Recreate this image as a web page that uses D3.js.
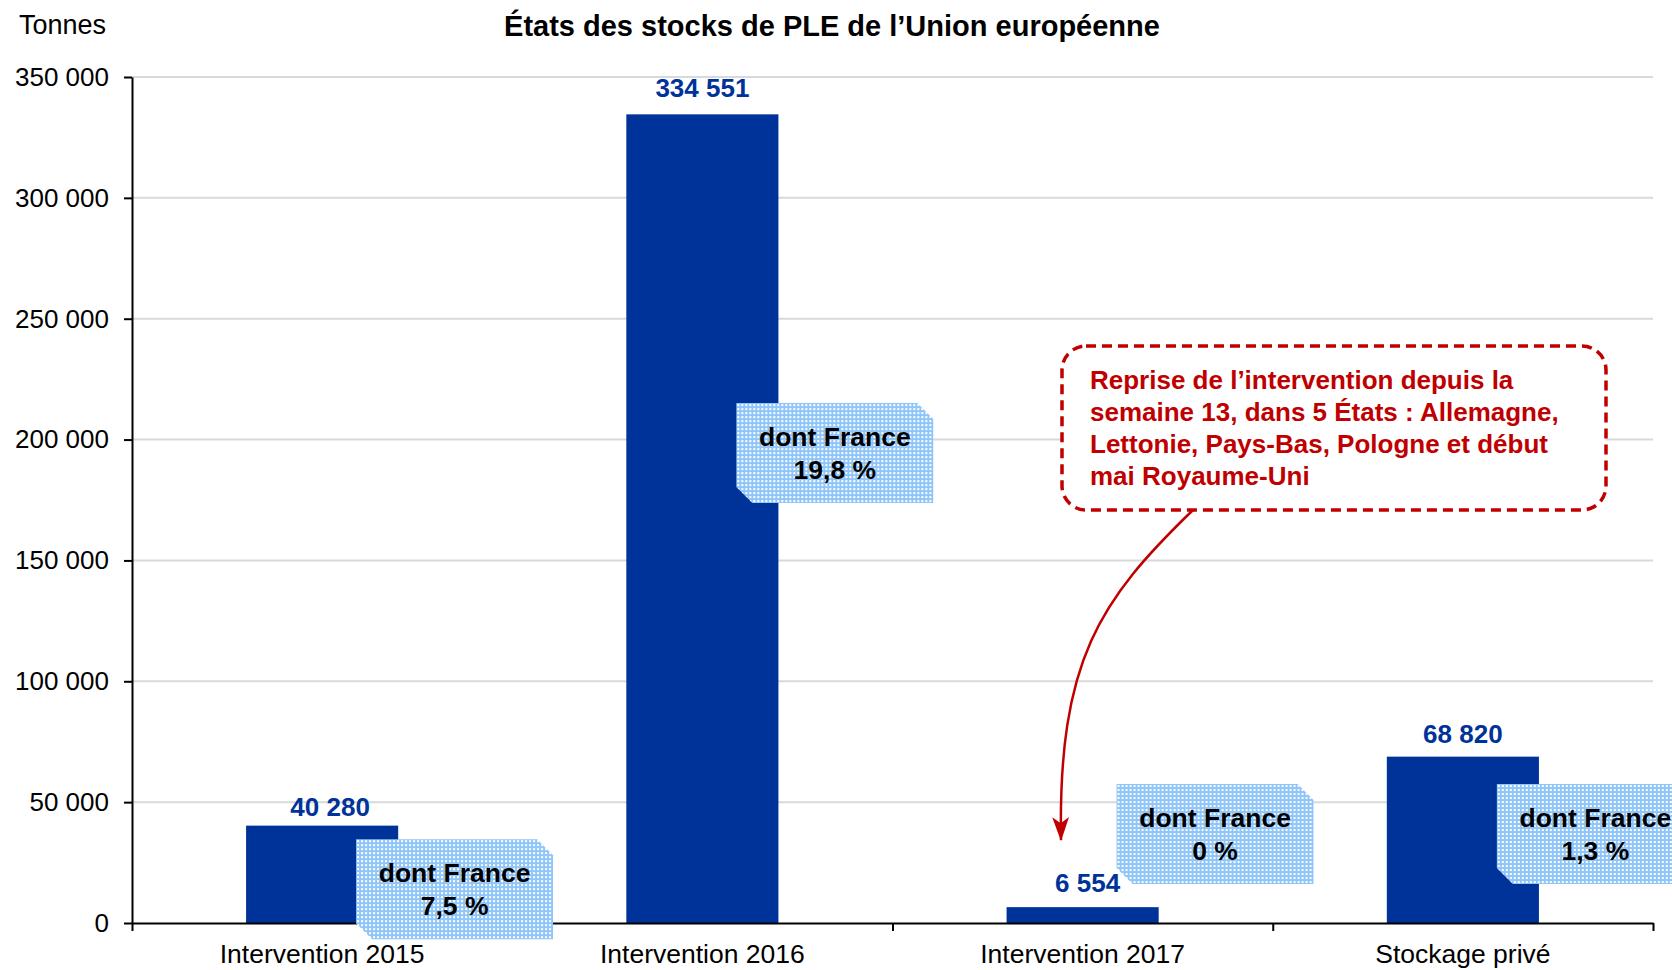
<!DOCTYPE html>
<html>
<head>
<meta charset="utf-8">
<script src="https://cdn.jsdelivr.net/npm/d3@7"></script>
<style>
    body { margin: 0; background: #fff; }
    svg { display: block; font-family: "Liberation Sans", Arial, sans-serif; }
</style>
</head>
<body>
<svg width="1672" height="970"></svg>
<script>
    // data
    var categories = ["Intervention 2015", "Intervention 2016", "Intervention 2017", "Stockage privé"];
    var stocks = [40280, 334551, 6554, 68820];
    var francePct = [7.5, 19.8, 0, 1.3];
    var yTicks = [0, 50000, 100000, 150000, 200000, 250000, 300000, 350000];
    var calloutLines = [
        "Reprise de l\u2019intervention depuis la",
        "semaine 13, dans 5 États : Allemagne,",
        "Lettonie, Pays-Bas, Pologne et début",
        "mai Royaume-Uni"
    ];
    // where the "dont France" boxes sit (in tonnes, box centre)
    var boxLevel = [14000, 194400, 36800, 36800];
    // hand placed value labels in the original: [dx, gap above bar]
    var labelNudge = [[8, 10], [0, 17], [5, 15], [0, 14]];

    var svg = d3.select("svg"),
        margin = { top: 77, right: 19, bottom: 47, left: 132 },
        width = +svg.attr("width") - margin.left - margin.right,
        height = +svg.attr("height") - margin.top - margin.bottom,
        g = svg.append("g").attr("transform", "translate(" + margin.left + "," + margin.top + ")");

    var blue = "#003399", red = "#C00000";

    var loc = d3.formatLocale({ decimal: ",", thousands: " ", grouping: [3], currency: ["", ""] });
    var fmt = loc.format(",d");
    var fmtPct = loc.format(",");

    var xCat = d3.scaleBand().domain(categories).range([0, width]);
    var xBar = d3.scaleBand().domain(categories).range([0, width]).paddingInner(0.6).paddingOuter(0.3);
    var xEdge = d3.scaleLinear().domain([0, categories.length]).range([0, width]);
    var y = d3.scaleLinear().domain([0, 350000]).range([height, 0]);

    var defs = svg.append("defs");
    var pat = defs.append("pattern").attr("id", "dots")
        .attr("width", 4).attr("height", 4).attr("patternUnits", "userSpaceOnUse");
    pat.append("rect").attr("width", 4).attr("height", 4).attr("fill", "#8fc5f8");
    pat.append("rect").attr("x", 1).attr("y", 1).attr("width", 2).attr("height", 2).attr("fill", "#ffffff");

    defs.append("marker").attr("id", "head")
        .attr("viewBox", "0 0 20 20").attr("refX", 19).attr("refY", 10)
        .attr("markerWidth", 24).attr("markerHeight", 24).attr("markerUnits", "userSpaceOnUse")
        .attr("orient", "auto")
        .append("path").attr("d", "M0,3 L20,10 L0,17 L5,10 Z").attr("fill", red);

    // gridlines
    g.append("g").selectAll("line")
        .data(yTicks.filter(function (d) { return d > 0; }))
        .enter().append("line")
        .attr("x1", 0).attr("x2", width)
        .attr("y1", function (d) { return y(d); })
        .attr("y2", function (d) { return y(d); })
        .attr("stroke", "#d9d9d9").attr("stroke-width", 2);

    // bars
    g.append("g").selectAll("rect")
        .data(stocks)
        .enter().append("rect")
        .attr("x", function (d, i) { return xBar(categories[i]); })
        .attr("y", function (d) { return y(d); })
        .attr("width", xBar.bandwidth())
        .attr("height", function (d) { return height - y(d); })
        .attr("fill", blue);

    // value labels
    g.append("g").selectAll("text")
        .data(stocks)
        .enter().append("text")
        .attr("x", function (d, i) { return xBar(categories[i]) + xBar.bandwidth() / 2 + labelNudge[i][0]; })
        .attr("y", function (d, i) { return y(d) - labelNudge[i][1]; })
        .attr("text-anchor", "middle")
        .attr("font-size", 26).attr("font-weight", "bold")
        .attr("fill", blue)
        .text(function (d) { return fmt(d); });

    // y axis
    var yAxis = g.append("g")
        .call(d3.axisLeft(y).tickValues(yTicks).tickSize(8).tickSizeOuter(0).tickPadding(15).tickFormat(fmt));
    yAxis.selectAll("text").attr("font-size", 26).attr("fill", "#000")
        .attr("font-family", "Liberation Sans, Arial, sans-serif");
    yAxis.selectAll("line, path").attr("stroke", "#000").attr("stroke-width", 2);

    // x axis: boundary ticks + centred labels
    var xLine = g.append("g").attr("transform", "translate(0," + height + ")")
        .call(d3.axisBottom(xEdge).tickValues(d3.range(categories.length + 1)).tickSizeInner(8).tickSizeOuter(0).tickFormat(""));
    xLine.selectAll("line, path").attr("stroke", "#000").attr("stroke-width", 2);

    var xLabels = g.append("g").attr("transform", "translate(0," + height + ")")
        .call(d3.axisBottom(xCat).tickSize(0).tickPadding(21));
    xLabels.select(".domain").remove();
    xLabels.selectAll("text").attr("font-size", 26.5).attr("fill", "#000")
        .attr("font-family", "Liberation Sans, Arial, sans-serif");

    // "dont France" boxes
    var bw = 197, bh = 100, cut = 16;
    var boxes = g.append("g").selectAll("g")
        .data(francePct)
        .enter().append("g")
        .attr("transform", function (d, i) {
            return "translate(" + (xBar(categories[i]) + 110) + "," + (y(boxLevel[i]) - bh / 2) + ")";
        });
    boxes.append("path")
        .attr("d", "M0,0H" + (bw - cut) + "L" + bw + "," + cut + "V" + bh + "H" + cut + "L0," + (bh - cut) + "Z")
        .attr("fill", "url(#dots)");
    boxes.append("text")
        .attr("x", bw / 2).attr("y", 43)
        .attr("text-anchor", "middle").attr("font-size", 26.5).attr("font-weight", "bold")
        .text("dont France");
    boxes.append("text")
        .attr("x", bw / 2).attr("y", 76)
        .attr("text-anchor", "middle").attr("font-size", 26.5).attr("font-weight", "bold")
        .text(function (d) { return fmtPct(d) + " %"; });

    // red callout
    svg.append("rect")
        .attr("x", 1062).attr("y", 346).attr("width", 544).attr("height", 164).attr("rx", 24)
        .attr("fill", "#fff").attr("stroke", red).attr("stroke-width", 3.5)
        .attr("stroke-dasharray", "10,6");
    svg.append("g").selectAll("text")
        .data(calloutLines)
        .enter().append("text")
        .attr("x", 1090)
        .attr("y", function (d, i) { return 389 + i * 32; })
        .attr("font-size", 26).attr("font-weight", "bold").attr("fill", red)
        .text(function (d) { return d; });
    svg.append("path")
        .attr("d", "M1193,510 C1100,600 1058,660 1061,840")
        .attr("fill", "none").attr("stroke", red).attr("stroke-width", 2.5)
        .attr("marker-end", "url(#head)");

    // title & unit
    svg.append("text")
        .attr("x", 832).attr("y", 36)
        .attr("text-anchor", "middle").attr("font-size", 29).attr("font-weight", "bold")
        .text("États des stocks de PLE de l\u2019Union européenne");
    svg.append("text")
        .attr("x", 19).attr("y", 34)
        .attr("font-size", 27)
        .text("Tonnes");
</script>
</body>
</html>
